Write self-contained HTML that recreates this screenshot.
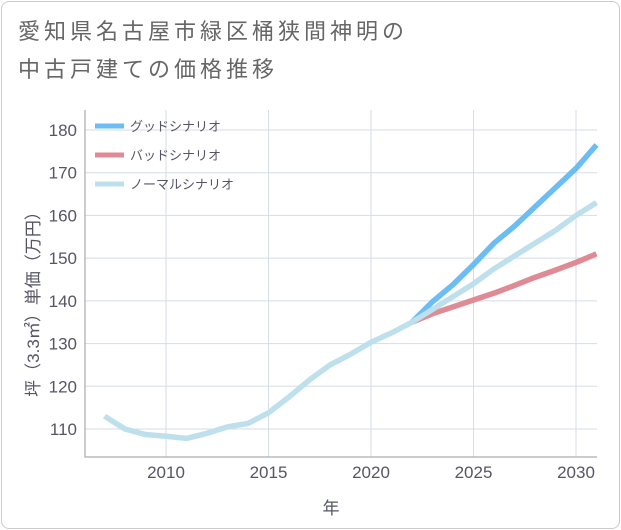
<!DOCTYPE html>
<html><head><meta charset="utf-8"><style>
body{margin:0;background:#fff;font-family:"Liberation Sans","Noto Sans CJK JP",sans-serif;}
.card{position:absolute;left:1px;top:1px;width:617px;height:526px;border:1px solid #ccc;border-radius:8px;background:#fff;}
.title{position:absolute;left:18px;top:13px;font-size:22px;letter-spacing:4px;line-height:38px;color:#666;}
</style></head><body>
<div class="card"></div>
<div class="title">愛知県名古屋市緑区桶狭間神明の<br>中古戸建ての価格推移</div>
<svg id="c" width="621" height="530" style="position:absolute;left:0;top:0"></svg>
<script>
const years=[2007,2008,2009,2010,2011,2012,2013,2014,2015,2016,2017,2018,2019,2020,2021,2022,2023,2024,2025,2026,2027,2028,2029,2030,2031];
const normal=[113,110,108.7,108.3,107.8,109,110.5,111.3,113.8,117.5,121.5,125,127.5,130.3,132.5,135,138,141,144,147.5,150.5,153.5,156.5,160,163];
const goodYears=[2022,2023,2024,2025,2026,2027,2028,2029,2030,2031];
const good=[135,139.8,143.8,148.5,153.5,157.5,162,166.5,171,176.5];
const bad=[135,137,138.6,140.2,141.8,143.6,145.5,147.2,149,151];
const yTicks=[110,120,130,140,150,160,170,180];
const xTicks=[2010,2015,2020,2025,2030];
const L=85,R=597,T=110,B=457;
const X=v=>576+(v-2030)*20.5;
const Y=v=>429-(v-110)*(299/70);
const s=document.getElementById('c');
const NS='http://www.w3.org/2000/svg';
function mk(t,a){const e=document.createElementNS(NS,t);for(const k in a)e.setAttribute(k,a[k]);s.appendChild(e);return e;}
let bg=mk('rect',{x:L,y:T,width:R-L,height:B-T,fill:'#fff'});


yTicks.forEach(v=>{let g=mk('line',{x1:L,x2:R,y1:Y(v),y2:Y(v),stroke:'#d5dde6'});


let t=mk('text',{x:L-8,y:Y(v)+6,'text-anchor':'end','font-size':17,fill:'#556'});t.textContent=v;

});
xTicks.forEach(v=>{let g=mk('line',{x1:X(v),x2:X(v),y1:T,y2:B,stroke:'#d5dde6'});


let t=mk('text',{x:X(v),y:B+21,'text-anchor':'middle','font-size':17,fill:'#556'});t.textContent=v;

});
let ax=mk('path',{d:`M${L} ${T}V${B}H${R}`,stroke:'#999',fill:'none'});


function line(xs,ys,c,n){let p=mk('polyline',{points:xs.map((x,i)=>X(x)+','+Y(ys[i])).join(' '),fill:'none',stroke:c,'stroke-width':5.5,'stroke-linejoin':'round'});

}
line(goodYears,bad,'#e08a95','bad-scenario-line');
line(goodYears,good,'#6bbdf3','good-scenario-line');
line(years,normal,'#bde0ec','normal-scenario-line');
[['グッドシナリオ','#6bbdf3'],['バッドシナリオ','#e08a95'],['ノーマルシナリオ','#bde0ec']].forEach((e,i)=>{
let y=126+i*29;
let l=mk('line',{x1:95,x2:124,y1:y,y2:y,stroke:e[1],'stroke-width':5});


let t=mk('text',{x:130,y:y+5,'font-size':13,fill:'#556'});t.textContent=e[0];

});
let xt=mk('text',{x:331,y:514,'text-anchor':'middle','font-size':17,fill:'#556'});xt.textContent='年';


let yt=mk('text',{x:0,y:0,'text-anchor':'middle','font-size':17,fill:'#556',transform:'translate(39,300) rotate(-90)'});yt.textContent='坪（3.3㎡）単価（万円）';


</script>
</body></html>
